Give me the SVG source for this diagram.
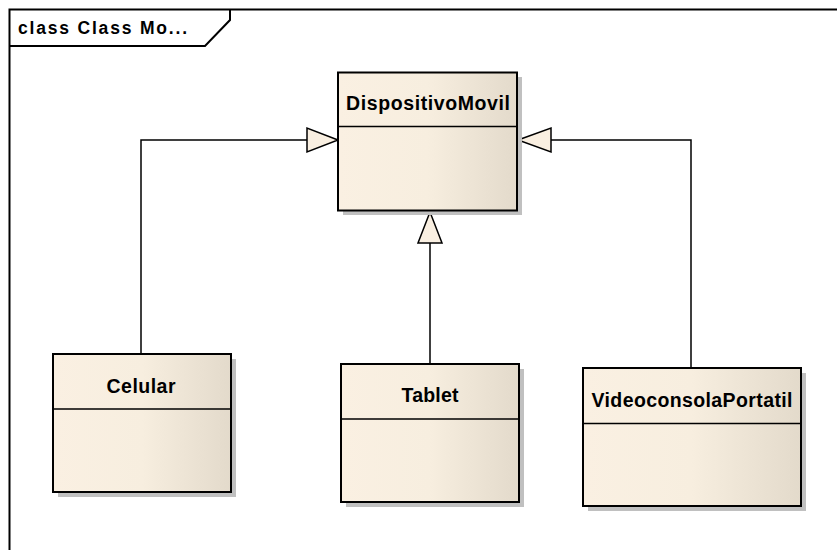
<svg xmlns="http://www.w3.org/2000/svg" width="837" height="550" viewBox="0 0 837 550">
<defs>
<linearGradient id="fillg" x1="0" y1="0" x2="1" y2="0">
<stop offset="0" stop-color="#FAF0E2"/>
<stop offset="0.5" stop-color="#F7EEDF"/>
<stop offset="1" stop-color="#E3DACB"/>
</linearGradient>
<style>
.box{fill:url(#fillg);stroke:#000;stroke-width:2}
.shadow{fill:#C0C0C0}
.div{stroke:#000;stroke-width:1.5}
.name{font-family:"Liberation Sans",Arial,sans-serif;font-weight:bold;font-size:19.5px;fill:#000;text-anchor:middle}
.conn{fill:none;stroke:#000;stroke-width:1.5}
.tri{fill:#F9EFE1;stroke:#000;stroke-width:1.5;stroke-linejoin:miter}
</style>
</defs>
<rect width="837" height="550" fill="#fff"/>
<g id="frame">
<path d="M9.5,550 L9.5,9.5 L837,9.5" fill="none" stroke="#000" stroke-width="2"/>
<path d="M9.5,46 L205,46 L230,20 L230,9.5" fill="none" stroke="#000" stroke-width="2"/>
<text x="18" y="34" font-family="Liberation Sans,Arial,sans-serif" font-weight="bold" font-size="17.5" textLength="169" lengthAdjust="spacing">class Class Mo...</text>
</g>
<g id="connectors">
<polyline class="conn" points="141,354 141,140 307,140"/>
<polygon class="tri" points="338,140 307,128 307,152"/>
<polyline class="conn" points="430,364 430,243"/>
<polygon class="tri" points="430,212 418,243 442,243"/>
<polyline class="conn" points="691,368 691,140 551,140"/>
<polygon class="tri" points="518,140 551,128 551,152"/>
</g>
<g id="DispositivoMovil">
<rect class="shadow" x="343" y="77" width="179" height="138"/>
<rect class="box" x="338" y="72.5" width="179" height="138"/>
<line class="div" x1="338" y1="126.5" x2="517" y2="126.5"/>
<text class="name" x="428" y="110" textLength="164" lengthAdjust="spacing">DispositivoMovil</text>
</g>
<g id="Celular">
<rect class="shadow" x="58" y="359" width="178" height="138"/>
<rect class="box" x="53" y="354" width="178" height="138"/>
<line class="div" x1="53" y1="409" x2="231" y2="409"/>
<text class="name" x="141" y="393" textLength="69" lengthAdjust="spacing">Celular</text>
</g>
<g id="Tablet">
<rect class="shadow" x="346" y="369" width="178" height="138"/>
<rect class="box" x="341" y="364" width="178" height="138"/>
<line class="div" x1="341" y1="419" x2="519" y2="419"/>
<text class="name" x="430" y="402" textLength="57" lengthAdjust="spacing">Tablet</text>
</g>
<g id="VideoconsolaPortatil">
<rect class="shadow" x="588" y="373" width="218" height="138"/>
<rect class="box" x="583" y="368" width="218" height="138"/>
<line class="div" x1="583" y1="423.5" x2="801" y2="423.5"/>
<text class="name" x="692" y="407" textLength="201" lengthAdjust="spacing">VideoconsolaPortatil</text>
</g>
</svg>
